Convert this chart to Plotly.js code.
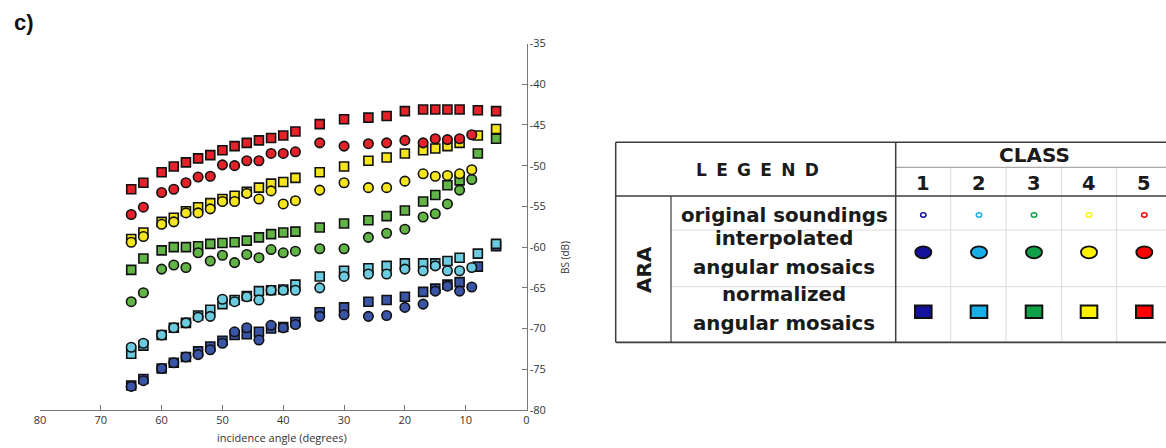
<!DOCTYPE html>
<html><head><meta charset="utf-8">
<script src="https://cdn.plot.ly/plotly-3.0.1.min.js"></script>
<style>html,body{margin:0;padding:0;background:#fff}</style>
</head><body><div id="chart" style="width:1166px;height:448px"></div>
<script>
// incidence angles (degrees)
const anglesCommon = [65,63,60,58,56,54,52,50,48,46,44,42,40,38,34,30,26,23,20,17,15,13,11];
const circleAngles = anglesCommon.concat([9]);
const squareAngles = anglesCommon.concat([8,5]);

// interpolated angular mosaics (circles), BS dB
const circ1 = [-77.1,-76.4,-74.9,-74.2,-73.5,-73.2,-72.6,-71.8,-70.4,-69.9,-71.4,-69.6,-69.9,-69.5,-68.5,-68.3,-68.5,-68.4,-67.4,-67.0,-65.4,-64.8,-65.4,-64.9];
const circ2 = [-72.3,-71.8,-70.8,-69.9,-69.3,-68.6,-68.5,-66.4,-66.7,-66.1,-66.5,-65.3,-65.3,-65.3,-65.0,-63.6,-63.3,-63.3,-62.7,-62.9,-62.3,-62.9,-62.9,-62.5];
const circ3 = [-66.7,-65.6,-62.7,-62.2,-62.5,-60.7,-61.7,-61.0,-61.9,-60.9,-61.3,-60.3,-60.7,-60.5,-60.2,-60.2,-58.8,-58.3,-57.8,-56.3,-55.9,-54.7,-53.0,-51.7];
const circ4 = [-59.4,-58.7,-57.2,-56.9,-55.8,-55.8,-55.3,-54.4,-54.4,-53.4,-54.1,-53.1,-54.7,-54.3,-53.0,-52.1,-52.7,-52.7,-51.9,-51.0,-51.3,-51.2,-51.0,-50.5];
const circ5 = [-56.0,-55.1,-53.3,-52.9,-52.1,-51.4,-51.3,-49.9,-50.0,-49.4,-49.4,-48.5,-48.5,-48.3,-47.2,-47.6,-47.3,-47.2,-46.9,-47.2,-46.7,-46.8,-46.7,-46.2];

// normalized angular mosaics (squares), BS dB
const sq1 = [-77.0,-76.2,-74.9,-74.2,-73.5,-72.8,-72.2,-71.5,-70.8,-70.7,-70.4,-70.0,-69.8,-69.2,-68.0,-67.4,-66.7,-66.5,-66.1,-65.5,-65.1,-64.6,-64.3,-62.4,-59.9];
const sq2 = [-73.1,-72.1,-70.8,-69.9,-69.3,-68.4,-67.7,-67.0,-66.5,-66.0,-65.4,-65.3,-65.2,-64.6,-63.6,-62.9,-62.6,-62.3,-62.0,-62.0,-62.0,-61.7,-61.3,-60.8,-59.6];
const sq3 = [-62.8,-61.4,-60.4,-60.0,-60.0,-59.9,-59.6,-59.5,-59.4,-59.2,-58.8,-58.4,-58.2,-58.1,-57.6,-57.1,-56.7,-56.2,-55.5,-54.4,-53.6,-52.4,-51.8,-48.5,-46.7];
const sq4 = [-59.0,-58.2,-56.9,-56.4,-55.6,-55.1,-54.6,-54.1,-53.7,-53.2,-52.7,-52.2,-52.0,-51.5,-50.8,-50.1,-49.4,-49.0,-48.5,-48.1,-47.9,-47.6,-47.2,-46.3,-45.5];
const sq5 = [-52.9,-52.1,-50.8,-50.1,-49.6,-49.1,-48.7,-48.1,-47.6,-47.2,-46.9,-46.6,-46.3,-45.8,-44.9,-44.3,-44.1,-43.9,-43.3,-43.1,-43.1,-43.1,-43.1,-43.2,-43.3];

const xTickVals = [80,70,60,50,40,30,20,10,0];
const xTickLabels = ['80','70','60','50','40','30','20','10','0'];
const yTickVals = [-80,-75,-70,-65,-60,-55,-50,-45,-40,-35];
const yTickLabels = ['-80','-75','-70','-65','-60','-55','-50','-45','-40','-35'];

const classLabels = ['1','2','3','4','5'];
const rowLabels = ['original soundings','interpolated','angular mosaics','normalized','angular mosaics'];

const plotColors = ['#3b55a6','#6ccbdf','#62b446','#f4e51d','#e3222a'];
const tableColors = ['#12129c','#1aaee6','#10a048','#fff200','#ff0000'];

const W = 1166, H = 448;
const X = px => px / W;
const Y = py => 1 - py / H;

const circles = [circ1, circ2, circ3, circ4, circ5];
const squares = [sq1, sq2, sq3, sq4, sq5];

const traces = [];
const sqOrder = [0,1,3,2,4];
sqOrder.forEach(i => {
  traces.push({type:'scatter', mode:'markers', x:squareAngles, y:squares[i],
    marker:{symbol:'square', size:9, color:plotColors[i], line:{color:'#111', width:1.6}},
    hoverinfo:'x+y'});
});
[0,1,2,3,4].forEach(i => {
  traces.push({type:'scatter', mode:'markers', x:circleAngles, y:circles[i],
    marker:{symbol:'circle', size:9.5, color:plotColors[i], line:{color:'#111', width:1.6}},
    hoverinfo:'x+y'});
});

// table geometry (pixels)
const L = 615.7, R = 1168, T = 142.3, B = 342.3;
const vSplit = 895.7, araSplit = 671;
const hClass = 167.3, hHead = 196, hRow1 = 230, hRow2 = 286.7;
const colCenters = [923.3, 979, 1034, 1089, 1144.3];
const colLines = [950.7, 1006, 1061.7, 1116.7];

const shapes = [];
const line = (x0,y0,x1,y1,color,width) => shapes.push({type:'line', xref:'paper', yref:'paper',
  x0:X(x0), y0:Y(y0), x1:X(x1), y1:Y(y1), line:{color:color, width:width}});
const dark = '#3c3c3c', light = '#dcdcdc';
colLines.forEach(cx => line(cx, hClass, cx, B, light, 1));
line(vSplit, hClass, R, hClass, '#a8a8a8', 1.2);
line(araSplit, hRow1, R, hRow1, light, 1);
line(araSplit, hRow2, R, hRow2, light, 1);
line(L, T, R, T, dark, 1.5);
line(L, hHead, R, hHead, dark, 1.5);
line(L, B, R, B, dark, 1.8);
line(L, T, L, B, dark, 1.5);
line(vSplit, T, vSplit, B, dark, 1.5);
line(araSplit, hHead, araSplit, B, dark, 1.2);

colCenters.forEach((cx, i) => {
  shapes.push({type:'circle', xref:'paper', yref:'paper', x0:X(cx-2.7), x1:X(cx+2.7), y0:Y(215+2.2), y1:Y(215-2.2),
    fillcolor:'#ffffff', line:{color:tableColors[i], width:1.5}});
  shapes.push({type:'circle', xref:'paper', yref:'paper', x0:X(cx-8), x1:X(cx+8), y0:Y(252.3+6), y1:Y(252.3-6),
    fillcolor:tableColors[i], line:{color:'#111', width:1.8}});
  shapes.push({type:'rect', xref:'paper', yref:'paper', x0:X(cx-8.3), x1:X(cx+8.3), y0:Y(311.7+6.3), y1:Y(311.7-6.3),
    fillcolor:tableColors[i], line:{color:'#111', width:2}});
});

const tf = (size) => ({family:'DejaVu Sans', size:size, color:'#1a1a1a', weight:'bold'});
const ann = (text, px, py, size, extra) => Object.assign({text:text, xref:'paper', yref:'paper',
  x:X(px), y:Y(py), xanchor:'center', yanchor:'middle', showarrow:false, font:tf(size)}, extra||{});
const annotations = [
  ann('L\u00a0\u2009E\u00a0\u2009G\u00a0\u2009E\u00a0\u2009N\u00a0\u2009D', 757, 170, 17),
  ann('CLASS', 1034, 154.5, 20),
  ann(rowLabels[0], 784, 215, 19.8),
  ann(rowLabels[1], 784, 238, 19.8),
  ann(rowLabels[2], 784, 267, 19.8),
  ann(rowLabels[3], 784, 294.5, 19.8),
  ann(rowLabels[4], 784, 323.5, 19.8),
  ann('ARA', 644, 270, 20, {textangle:-90}),
  {text:'<b>c)</b>', xref:'paper', yref:'paper', x:X(24), y:Y(22.5), xanchor:'center', yanchor:'middle', showarrow:false,
    font:{family:'Liberation Sans', size:22, color:'#111'}},
  {text:'BS (dB)', xref:'paper', yref:'paper', x:X(565), y:Y(258), xanchor:'center', yanchor:'middle', showarrow:false,
    textangle:-90, font:{family:'Open Sans', size:10, color:'#333'}},
  {text:'incidence angle (degrees)', xref:'paper', yref:'paper', x:X(282), y:Y(437.5), xanchor:'center', yanchor:'middle', showarrow:false,
    font:{family:'Open Sans', size:11, color:'#333'}}
];
classLabels.forEach((t, i) => annotations.push(ann(t, colCenters[i], 183.5, 19.5)));

const axFont = {family:'Open Sans', size:11, color:'#333'};
const layout = {
  width:W, height:H, margin:{l:0, r:0, t:0, b:0}, showlegend:false,
  paper_bgcolor:'#fff', plot_bgcolor:'#fff',
  xaxis:{domain:[X(40), X(526.5)], range:[80,0], tickmode:'array', tickvals:xTickVals, ticktext:xTickLabels,
    ticks:'inside', ticklen:5, tickcolor:'#777', tickwidth:1, showline:true, linecolor:'#777', linewidth:1,
    showgrid:false, zeroline:false, tickfont:axFont, anchor:'y'},
  yaxis:{domain:[Y(410), Y(43.5)], range:[-80,-35], side:'right', tickmode:'array', tickvals:yTickVals, ticktext:yTickLabels,
    ticks:'inside', ticklen:5, tickcolor:'#777', tickwidth:1, showline:true, linecolor:'#777', linewidth:1,
    showgrid:false, zeroline:false, tickfont:axFont, anchor:'x'},
  shapes:shapes, annotations:annotations
};
Plotly.newPlot('chart', traces, layout, {displayModeBar:false, staticPlot:true});
</script></body></html>
